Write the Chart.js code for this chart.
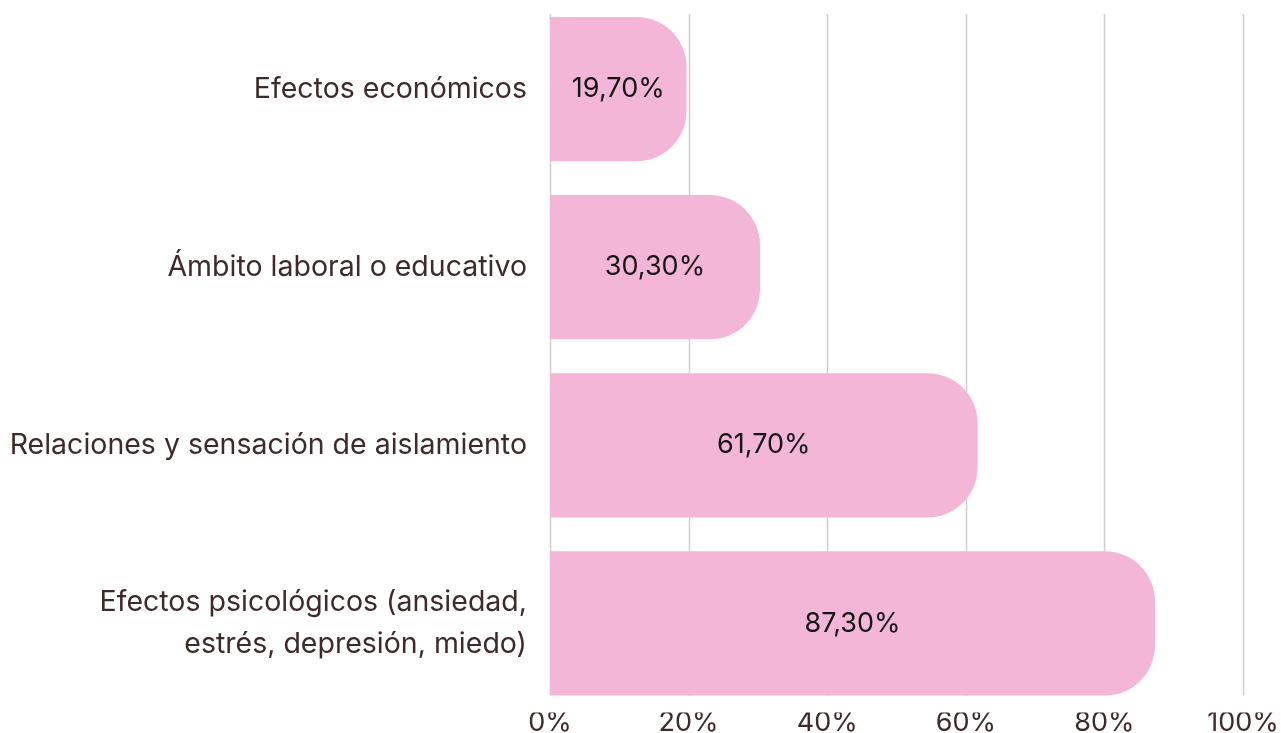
<!DOCTYPE html>
<html>
<head>
<meta charset="utf-8">
<script src="https://cdn.jsdelivr.net/npm/chart.js@4/dist/chart.umd.min.js"></script>
<style>
  html, body { margin: 0; padding: 0; background: #fff; }
  #wrap { width: 1281px; height: 733px; position: relative; }
</style>
</head>
<body>
<div id="wrap"><canvas id="barChart"></canvas></div>
<script>
// categories and values
const categories = [
    'Efectos económicos',
    'Ámbito laboral o educativo',
    'Relaciones y sensación de aislamiento',
    ['Efectos psicológicos (ansiedad,', 'estrés, depresión, miedo)']
];
const percentages = [19.7, 30.3, 61.7, 87.3];
const tickValues = [0, 20, 40, 60, 80, 100];

const barColor = 'rgb(244, 182, 214)';
const labelColor = '#3e2a2a';
const gridColor = '#cdcdcd';
const fontFamily = 'Inter, "DejaVu Sans", sans-serif';

// vertical grid lines, only as tall as the bars
const gridPlugin = {
    id: 'barGrid',
    beforeDatasetsDraw(chart) {
        const xs = chart.scales.x;
        const bars = chart.getDatasetMeta(0).data;
        const top = bars[0].y - bars[0].height / 2 - 3;
        const last = bars[bars.length - 1];
        const bottom = last.y + last.height / 2;
        const ctx = chart.ctx;
        ctx.save();
        ctx.strokeStyle = gridColor;
        ctx.lineWidth = 1.5;
        xs.ticks.forEach(t => {
            const px = Math.round(xs.getPixelForValue(t.value)) + 0.5;
            ctx.beginPath();
            ctx.moveTo(px, top);
            ctx.lineTo(px, bottom);
            ctx.stroke();
        });
        ctx.restore();
    }
};

// value labels in the middle of each bar
const valueLabels = {
    id: 'valueLabels',
    afterDatasetsDraw(chart) {
        const ctx = chart.ctx;
        const meta = chart.getDatasetMeta(0);
        ctx.save();
        ctx.font = '400 27px ' + fontFamily;
        ctx.fillStyle = '#141414';
        ctx.textAlign = 'center';
        ctx.textBaseline = 'middle';
        meta.data.forEach((bar, i) => {
            const txt = percentages[i].toFixed(2).replace('.', ',') + '%';
            ctx.fillText(txt, (bar.base + bar.x) / 2, bar.y);
        });
        ctx.restore();
    }
};

new Chart(document.getElementById('barChart'), {
    type: 'bar',
    data: {
        labels: categories,
        datasets: [{
            data: percentages,
            backgroundColor: barColor,
            borderRadius: { topRight: 50, bottomRight: 50, topLeft: 0, bottomLeft: 0 },
            borderSkipped: false,
            barPercentage: 0.81,
            categoryPercentage: 1
        }]
    },
    options: {
        indexAxis: 'y',
        responsive: true,
        maintainAspectRatio: false,
        animation: false,
        layout: { padding: { top: 0, right: 38, left: 0, bottom: 0 } },
        plugins: {
            legend: { display: false },
            tooltip: { enabled: false }
        },
        scales: {
            x: {
                min: 0,
                max: 100,
                afterBuildTicks(scale) {
                    scale.ticks = tickValues.map(v => ({ value: v }));
                },
                afterFit(scale) { scale.height = 20.5; },
                grid: { display: false, drawOnChartArea: false, drawTicks: false },
                border: { display: false },
                ticks: {
                    padding: -6,
                    color: labelColor,
                    font: { family: fontFamily, size: 27 },
                    callback: v => v + '%'
                }
            },
            y: {
                afterFit(scale) {
                    scale.width = 550;
                    scale.paddingTop = 0;
                    scale.paddingBottom = 0;
                },
                grid: { display: false, drawTicks: false },
                border: { display: false },
                ticks: {
                    padding: 23,
                    color: labelColor,
                    font: { family: fontFamily, size: 28.5, lineHeight: 1.5 }
                }
            }
        }
    },
    plugins: [gridPlugin, valueLabels]
});
</script>
</body>
</html>
